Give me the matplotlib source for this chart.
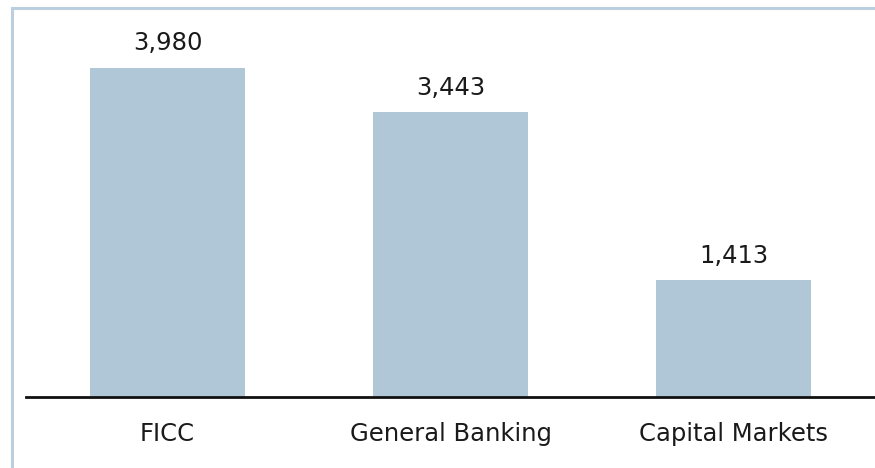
import matplotlib as mpl
mpl.use('Agg')
from matplotlib import pyplot as plt
from matplotlib.patches import Rectangle

mpl.rcParams.update({"font.family": ["DejaVu Sans"]})

# data
categories = ['FICC', 'General Banking', 'Capital Markets']
values = [3980, 3443, 1413]
value_labels = ['3,980', '3,443', '1,413']

W, H = 875, 468
fig = plt.figure(figsize=(W / 100, H / 100), dpi=100)

# light frame round the chart
fig.patches.append(Rectangle((12 / W, -0.1), 1.2, 1.1 - 8 / H, transform=fig.transFigure,
                             fill=False, edgecolor='#bccfde', linewidth=2.2))

ax = fig.add_axes([26 / W, (H - 397) / H, 1 - 26 / W, (397 - 33) / H])
x = range(len(categories))
bars = ax.bar(x, values, width=0.545, color='#afc7d7')
ax.set_xlim(-0.5, 2.5)
ax.set_ylim(0, 4400)

for b, lab in zip(bars, value_labels):
    ax.annotate(lab, (b.get_x() + b.get_width() / 2, b.get_height()),
                xytext=(0, 17.5), textcoords='offset points',
                ha='center', va='center', fontsize=17.5, color='#1a1a1a')

ax.set_xticks(list(x))
ax.set_xticklabels(categories, fontsize=17.5, color='#1a1a1a')
ax.tick_params(axis='x', length=0, pad=18)
ax.set_yticks([])
for s in ['top', 'right', 'left']:
    ax.spines[s].set_visible(False)
ax.spines['bottom'].set_linewidth(2)
ax.spines['bottom'].set_color('#111111')
ax.patch.set_alpha(0)

fig.savefig('out.png', dpi=100)
